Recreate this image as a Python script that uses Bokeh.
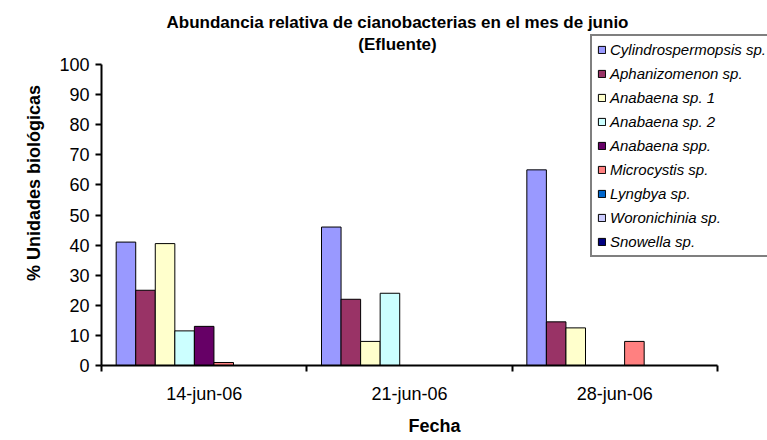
import numpy as np
from bokeh.plotting import figure
from bokeh.models import (ColumnDataSource, Range1d, FixedTicker, Legend, LegendItem,
                          Label)
from bokeh.transform import dodge
from bokeh.embed import file_html
from bokeh.resources import INLINE

# ---- data ----
fechas = ["14-jun-06", "21-jun-06", "28-jun-06"]
especies = ["Cylindrospermopsis sp.", "Aphanizomenon sp.", "Anabaena sp. 1",
            "Anabaena sp. 2", "Anabaena spp.", "Microcystis sp.", "Lyngbya sp.",
            "Woronichinia sp.", "Snowella sp."]
cylindrospermopsis = [41, 46, 65]
aphanizomenon = [25, 22, 14.5]
anabaena_1 = [40.5, 8, 12.5]
anabaena_2 = [11.5, 24, 0]
anabaena_spp = [13, 0, 0]
microcystis = [1, 0, 8]
lyngbya = [0, 0, 0]
woronichinia = [0, 0, 0]
snowella = [0, 0, 0]
colores = ["#9999FF", "#993366", "#FFFFCC", "#CCFFFF", "#660066", "#FF8080",
           "#0066CC", "#CCCCFF", "#000080"]
y_ticks = list(range(0, 101, 10))
titulo = ["Abundancia relativa de cianobacterias en el mes de junio", "(Efluente)"]

series = [cylindrospermopsis, aphanizomenon, anabaena_1, anabaena_2, anabaena_spp,
          microcystis, lyngbya, woronichinia, snowella]

FONT = "Liberation Sans"

data = {"x": np.arange(len(fechas)) + 0.5}
for i, s in enumerate(series):
    data[f"s{i}"] = s
src = ColumnDataSource(data)

W, H = 767, 440
LEFT, BOTTOM = 101, 75
frame_w = W - LEFT
frame_h = H - BOTTOM
cat_px = 616            # pixel width of the three categories
px_per_unit = 3.01      # vertical pixels per percent
x_end = len(fechas) * frame_w / cat_px
y_end = frame_h / px_per_unit

p = figure(width=W, height=H, output_backend="svg", toolbar_location=None,
           x_range=Range1d(0, x_end), y_range=Range1d(0, y_end),
           min_border_left=LEFT, min_border_right=0, min_border_top=0,
           min_border_bottom=BOTTOM)
p.grid.visible = False
p.outline_line_color = None
p.background_fill_color = "white"
p.border_fill_color = "white"

bw = 1.0 / 10.5
items = []
for i, (name, col) in enumerate(zip(especies, colores)):
    r = p.vbar(x=dodge("x", (i - 4) * bw, range=p.x_range), top=f"s{i}", width=bw,
               source=src, fill_color=col, line_color="black", line_width=1)
    items.append(LegendItem(label=name, renderers=[r]))

# axes
xa = p.xaxis[0]
xa.bounds = (0, len(fechas))
xa.ticker = FixedTicker(ticks=list(data["x"]), minor_ticks=list(range(len(fechas) + 1)))
xa.major_label_overrides = {float(v): f for v, f in zip(data["x"], fechas)}
xa.major_tick_out = 0
xa.major_tick_in = 0
xa.minor_tick_out = 6
xa.minor_tick_in = 0
xa.minor_tick_line_color = "black"
xa.minor_tick_line_width = 2
xa.axis_line_width = 2
xa.axis_line_color = "black"
xa.major_label_standoff = 12
xa.major_label_text_font = FONT
xa.major_label_text_font_size = "18px"
xa.major_label_text_color = "black"
xa.axis_label = "Fecha"
xa.axis_label_text_font = FONT
xa.axis_label_text_font_style = "bold"
xa.axis_label_text_font_size = "18px"
xa.axis_label_text_color = "black"
xa.axis_label_standoff = 9

ya = p.yaxis[0]
ya.bounds = (0, 100)
ya.ticker = FixedTicker(ticks=y_ticks)
ya.major_tick_out = 6
ya.major_tick_in = 0
ya.major_tick_line_width = 2
ya.major_tick_line_color = "black"
ya.minor_tick_out = 0
ya.minor_tick_in = 0
ya.axis_line_width = 2
ya.axis_line_color = "black"
ya.major_label_standoff = 6
ya.major_label_text_font = FONT
ya.major_label_text_font_size = "18px"
ya.major_label_text_color = "black"
ya.axis_label = "% Unidades biológicas"
ya.axis_label_text_font = FONT
ya.axis_label_text_font_style = "bold"
ya.axis_label_text_font_size = "18px"
ya.axis_label_text_color = "black"
ya.axis_label_standoff = 12

# title (two centered lines)
for txt, yy in zip(titulo, [343, 321]):
    p.add_layout(Label(x=296, y=yy, x_units="screen", y_units="screen", text=txt,
                       text_font=FONT, text_font_style="bold", text_font_size="17px",
                       text_align="center", text_baseline="alphabetic",
                       text_color="black"))

legend = Legend(items=items, location=(489, 108),
                label_text_font=FONT, label_text_font_style="italic",
                label_text_font_size="15px", label_text_color="black",
                label_height=14, glyph_height=9,
                glyph_width=9, spacing=7, padding=5, margin=0, label_standoff=4,
                border_line_color="black", border_line_width=2,
                background_fill_color="white", background_fill_alpha=1)
p.add_layout(legend, "center")

open("out.html", "w").write(file_html(p, INLINE))
